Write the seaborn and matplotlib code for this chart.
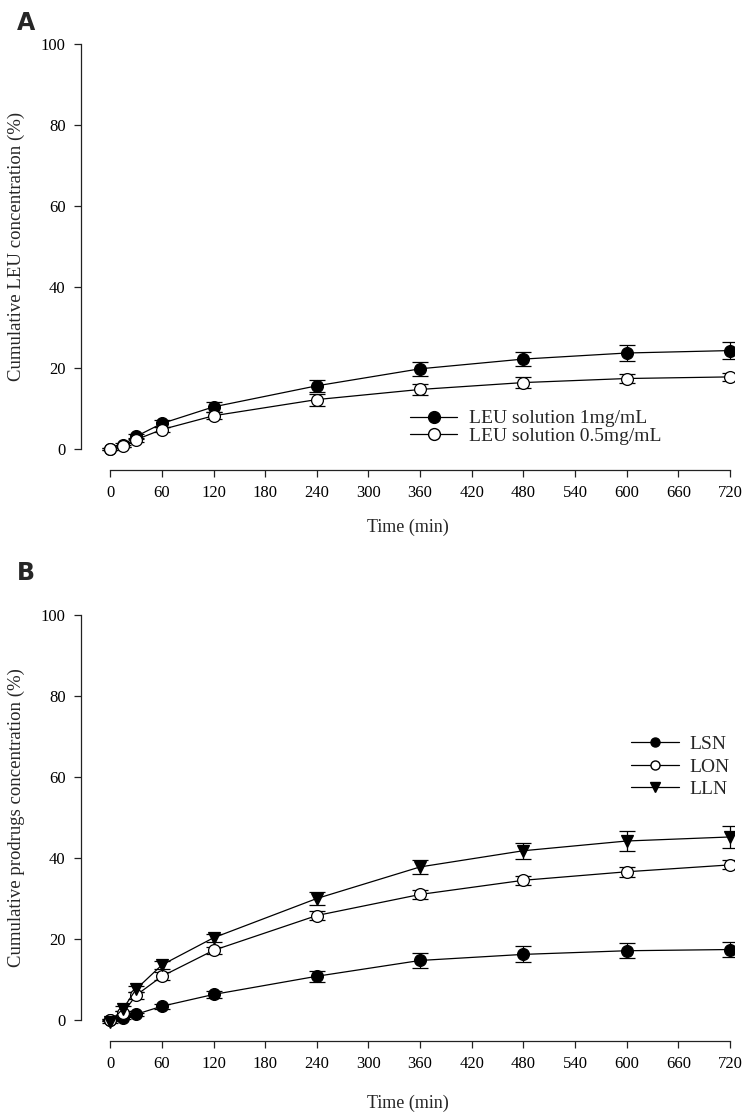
import numpy as np
import pandas as pd
import seaborn as sns
import matplotlib.pyplot as plt
from matplotlib.lines import Line2D

# === data ===
time_min = [0, 15, 30, 60, 120, 240, 360, 480, 600, 720]

# panel A : LEU solutions
leu_1mg = [0.0, 1.0, 3.1, 6.3, 10.4, 15.6, 19.8, 22.2, 23.7, 24.3]
leu_1mg_sd = [0.3, 0.4, 0.6, 0.8, 1.2, 1.5, 1.8, 1.8, 1.9, 2.0]
leu_05mg = [0.0, 0.8, 2.3, 4.8, 8.2, 12.2, 14.7, 16.4, 17.4, 17.8]
leu_05mg_sd = [0.2, 0.3, 0.5, 0.7, 0.9, 1.5, 1.4, 1.3, 1.2, 1.0]

# panel B : prodrugs
lsn = [0.0, 0.5, 1.4, 3.4, 6.3, 10.8, 14.7, 16.2, 17.1, 17.4]
lsn_sd = [0.3, 0.3, 0.4, 0.6, 0.9, 1.3, 1.8, 2.0, 1.9, 1.9]
lon = [0.0, 1.8, 6.1, 10.8, 17.2, 25.8, 31.0, 34.5, 36.6, 38.3]
lon_sd = [0.3, 0.5, 0.8, 1.0, 0.9, 1.0, 1.2, 1.1, 1.2, 1.1]
lln = [-0.4, 2.8, 7.6, 13.6, 20.3, 30.0, 37.8, 41.8, 44.2, 45.2]
lln_sd = [0.3, 0.6, 0.8, 1.0, 1.0, 1.5, 1.8, 2.0, 2.5, 2.7]

x_ticks = list(range(0, 721, 60))
y_ticks = list(range(0, 101, 20))

sns.set_theme(style="ticks")
plt.rcParams['font.family'] = ['Liberation Serif', 'DejaVu Serif']

fig = plt.figure(figsize=(7.5, 11.17), dpi=100)
axA = fig.add_axes([0.108, 0.5792, 0.871, 0.385])
axB = fig.add_axes([0.108, 0.068, 0.871, 0.385])

def draw_series(ax, y, sd, marker, face, label):
    df = pd.DataFrame({"t": time_min, "v": y})
    ax.errorbar(time_min, y, yerr=sd, fmt='none', ecolor='black',
                elinewidth=0.9, capsize=6, capthick=0.9, zorder=2)
    sns.lineplot(data=df, x="t", y="v", ax=ax, color='black', lw=0.9,
                 marker=marker, markersize=8.5, markerfacecolor=face,
                 markeredgecolor='black', markeredgewidth=0.9, zorder=3,
                 label=label, legend=False)

def style_axes(ax, ylabel, xlab_y):
    ax.set_xlim(-34, 725)
    ax.set_ylim(-5.2, 101)
    ax.spines['left'].set_bounds(0, 100)
    ax.spines['bottom'].set_bounds(0, 720)
    sns.despine(ax=ax)
    for s in ['left', 'bottom']:
        ax.spines[s].set_linewidth(0.9)
        ax.spines[s].set_color('#222222')
    ax.set_xticks(x_ticks)
    ax.set_yticks(y_ticks)
    ax.tick_params(axis='both', direction='out', length=5, width=0.9,
                   labelsize=12, colors='#222222', labelcolor='black', pad=6)
    ax.set_xlabel("Time (min)", fontsize=13)
    ax.set_ylabel(ylabel, fontsize=13.5)
    ax.xaxis.set_label_coords(0.5, xlab_y)
    ax.yaxis.set_label_coords(-0.085, 0.52)

# --- panel A ---
draw_series(axA, leu_1mg, leu_1mg_sd, 'o', 'black', "LEU solution 1mg/mL")
draw_series(axA, leu_05mg, leu_05mg_sd, 'o', 'white', "LEU solution 0.5mg/mL")
style_axes(axA, "Cumulative LEU concentration (%)", -0.112)
handlesA = [Line2D([], [], color='black', lw=0.9, marker='o', markersize=8.5,
                   markerfacecolor=f, markeredgecolor='black')
            for f in ['black', 'white']]
axA.legend(handlesA, ["LEU solution 1mg/mL", "LEU solution 0.5mg/mL"],
           loc='upper left', bbox_to_anchor=(0.492, 0.158), frameon=False,
           fontsize=14, handlelength=2.4, handletextpad=0.6, labelspacing=0.0,
           borderaxespad=0)

# --- panel B ---
draw_series(axB, lsn, lsn_sd, 'o', 'black', "LSN")
draw_series(axB, lon, lon_sd, 'o', 'white', "LON")
draw_series(axB, lln, lln_sd, 'v', 'black', "LLN")
style_axes(axB, "Cumulative prodrugs concentration (%)", -0.125)
handlesB = [Line2D([], [], color='black', lw=0.9, marker=m, markersize=6.5,
                   markerfacecolor=f, markeredgecolor='black')
            for m, f in [('o', 'black'), ('o', 'white'), ('v', 'black')]]
axB.legend(handlesB, ["LSN", "LON", "LLN"], loc='upper left',
           bbox_to_anchor=(0.83, 0.7285), frameon=False, fontsize=14,
           handlelength=2.45, handletextpad=0.57, labelspacing=0.25,
           borderaxespad=0)

fig.text(0.022, 0.99, "A", fontsize=17, fontweight='bold', va='top',
         family='DejaVu Sans')
fig.text(0.022, 0.498, "B", fontsize=17, fontweight='bold', va='top',
         family='DejaVu Sans')

fig.savefig("out.png", dpi=100)
